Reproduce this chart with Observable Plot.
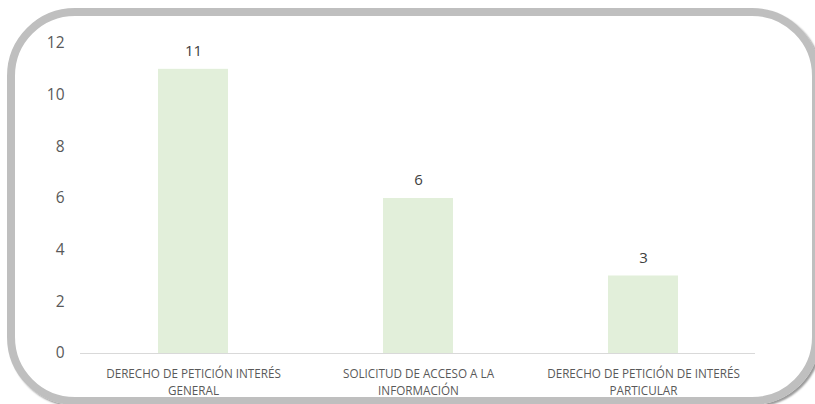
<!DOCTYPE html>
<html>
<head>
<meta charset="utf-8">
<script src="https://cdn.jsdelivr.net/npm/d3@7"></script>
<script src="https://cdn.jsdelivr.net/npm/@observablehq/plot@0.6"></script>
<style>
  html, body { margin: 0; padding: 0; background: #fff; width: 815px; height: 404px; overflow: hidden; }
  #frame {
    position: absolute; left: 7px; top: 8px; width: 797px; height: 381px;
    border: 8px solid #bfbfbf; border-radius: 68px;
    box-shadow: 2px 2px 2px #9a9a9a;
  }
  #chart { position: absolute; left: 0; top: 0; }
</style>
</head>
<body>
<div id="frame"></div>
<div id="chart"></div>
<script>
const categories = [
  "DERECHO DE PETICIÓN INTERÉS GENERAL",
  "SOLICITUD DE ACCESO A LA INFORMACIÓN",
  "DERECHO DE PETICIÓN DE INTERÉS PARTICULAR"
];
const tickLabels = [
  "DERECHO DE PETICIÓN INTERÉS\nGENERAL",
  "SOLICITUD DE ACCESO A LA\nINFORMACIÓN",
  "DERECHO DE PETICIÓN DE INTERÉS\nPARTICULAR"
];
const values = [11, 6, 3];
const yTicks = [0, 2, 4, 6, 8, 10, 12];

const data = categories.map((c, i) => ({category: c, value: values[i]}));
const labelOf = new Map(categories.map((c, i) => [c, tickLabels[i]]));

const chart = Plot.plot({
  width: 815,
  height: 404,
  marginLeft: 80,
  marginRight: 60,
  marginTop: 43,
  marginBottom: 51,
  style: {fontFamily: "'Open Sans', 'Liberation Sans', sans-serif", background: "transparent"},
  x: {domain: categories, paddingInner: 0.69, paddingOuter: 0.345, label: null},
  y: {domain: [0, 12], label: null},
  marks: [
    Plot.barY(data, {x: "category", y: "value", fill: "#e2efda"}),
    Plot.ruleY([0], {stroke: "#d9d9d9", strokeWidth: 1}),
    Plot.text(data, {x: "category", y: "value", text: d => String(d.value), dy: -18, fontSize: 15, fill: "#404040"}),
    Plot.axisY({ticks: yTicks, tickSize: 0, tickPadding: 16, fontSize: 15.5, fill: "#595959", label: null}),
    Plot.axisX({tickSize: 0, tickPadding: 13, fontSize: 11.7, fill: "#595959", lineHeight: 1.4,
      tickFormat: d => labelOf.get(d), label: null})
  ]
});
document.getElementById("chart").appendChild(chart);
</script>
</body>
</html>
